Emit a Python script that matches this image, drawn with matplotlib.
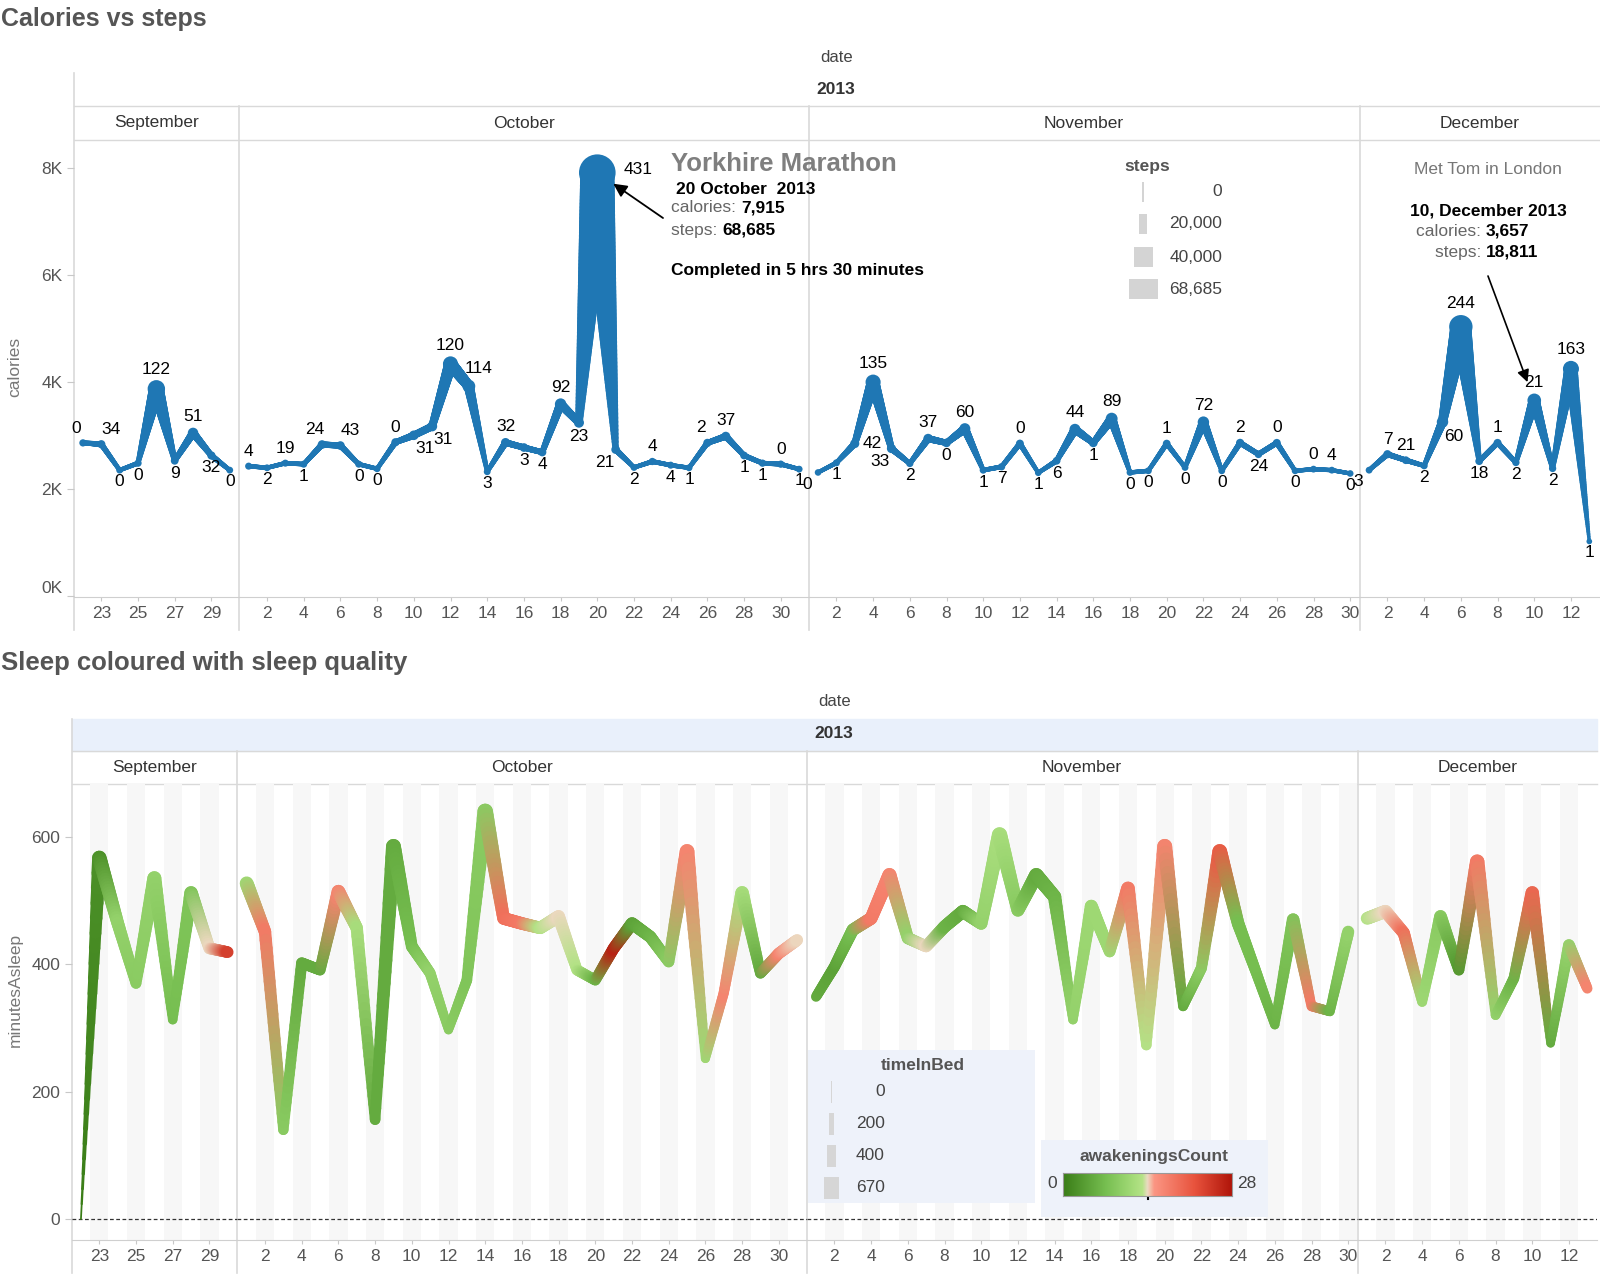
import numpy as np
import matplotlib
matplotlib.use("Agg")
import matplotlib.pyplot as plt
from matplotlib.collections import LineCollection
from matplotlib.colors import LinearSegmentedColormap, to_rgb
from matplotlib.patches import Rectangle

plt.rcParams['font.family'] = ['Liberation Sans', 'DejaVu Sans']

W, H = 1600, 1275

months = ['September', 'October', 'November', 'December']
days_sep = list(range(22, 31))
days_oct = list(range(1, 32))
days_nov = list(range(1, 31))
days_dec = list(range(1, 14))

# --- Calories vs steps -------------------------------------------------
calories_sep = [2862, 2837, 2352, 2483, 3873, 2527, 3048, 2626, 2352]
calories_oct = [2427, 2396, 2483, 2464, 2831, 2812, 2464, 2378, 2874, 3004,
                3171, 4339, 3923, 2322, 2868, 2775, 2687, 3588, 3240, 7915,
                2737, 2402, 2514, 2445, 2396, 2862, 2985, 2626, 2483, 2464, 2371]
calories_nov = [2309, 2489, 2849, 3998, 2756, 2477, 2942, 2862, 3128, 2352,
                2415, 2849, 2303, 2527, 3116, 2862, 3315, 2309, 2340, 2849,
                2402, 3250, 2340, 2862, 2650, 2862, 2340, 2371, 2352, 2290]
calories_dec = [2352, 2650, 2538, 2434, 3253, 5034, 2520, 2862, 2495, 3657,
                2384, 4246, 1019]

steps_sep = [5000, 7000, 4000, 5000, 27000, 6000, 12000, 7000, 4000]
steps_oct = [4500, 4000, 4500, 4500, 8000, 8000, 4500, 4000, 7000, 10000,
             11000, 22000, 17000, 4000, 9000, 8000, 7000, 14000, 11000, 68685,
             8000, 4000, 5000, 4500, 4000, 7000, 9000, 6000, 5000, 5000, 4000]
steps_nov = [3500, 4500, 9000, 22000, 9000, 5000, 10000, 8000, 13000, 4500,
             5000, 6500, 3500, 6000, 13000, 8000, 15000, 4000, 4000, 6000,
             4000, 14000, 4000, 7000, 6000, 6500, 4000, 4000, 4000, 3500]
steps_dec = [4000, 7000, 6000, 4500, 14000, 40000, 6000, 6500, 5000, 18811,
             5000, 24000, 1500]

active_sep = [0, 34, 0, 0, 122, 9, 51, 32, 0]
active_oct = [4, 2, 19, 1, 24, 43, 0, 0, 0, 31, 31, 120, 114, 3, 32, 3, 4, 92,
              23, 431, 21, 2, 4, 4, 1, 2, 37, 1, 1, 0, 1]
active_nov = [0, 1, 42, 135, 33, 2, 37, 0, 60, 1, 7, 0, 1, 6, 44, 1, 89, 0, 0,
              1, 0, 72, 0, 2, 24, 0, 0, 0, 4, 0]
active_dec = [3, 7, 21, 2, 60, 244, 18, 1, 2, 21, 2, 163, 1]

# where each data label sits relative to its point
place_sep = ['al', 'ar', 'b', 'b', 'a', 'b', 'a', 'b', 'b']
place_oct = ['a', 'b', 'a', 'b', 'al', 'ar', 'b', 'b', 'a', 'br', 'br', 'a', 'ar',
             'b', 'a', 'b', 'b', 'a', 'b', 'rr', 'bl', 'b', 'a', 'b', 'b', 'al',
             'a', 'b', 'b', 'a', 'b']
place_nov = ['bl', 'b', 'r', 'a', 'bl', 'b', 'a', 'b', 'a', 'b', 'b', 'a', 'b',
             'b', 'a', 'b', 'a', 'b', 'b', 'a', 'b', 'a', 'b', 'a', 'b', 'a',
             'b', 'a', 'a', 'b']
place_dec = ['bl', 'a', 'a', 'b', 'br', 'a', 'b', 'a', 'b', 'a', 'b', 'a', 'b']

# --- Sleep -------------------------------------------------------------
asleep_sep = [0, 567, 465, 370, 535, 313, 512, 425, 419]
asleep_oct = [527, 451, 140, 402, 391, 514, 457, 156, 585, 428, 386, 297, 375,
              640, 472, 464, 457, 475, 391, 375, 425, 464, 443, 404, 577, 252,
              355, 512, 386, 417, 438]
asleep_nov = [349, 396, 454, 472, 540, 441, 428, 459, 483, 464, 603, 485, 540,
              506, 313, 491, 420, 519, 273, 585, 334, 394, 577, 464, 386, 305,
              470, 334, 326, 451]
asleep_dec = [472, 483, 449, 341, 475, 391, 561, 320, 378, 512, 276, 430, 362]

time_in_bed_sep = [0, 620, 530, 440, 600, 380, 570, 490, 480]
time_in_bed_oct = [590, 520, 420, 460, 450, 575, 515, 430, 640, 490, 445, 360,
                   435, 670, 530, 525, 515, 535, 450, 435, 485, 525, 505, 465,
                   635, 360, 415, 575, 445, 475, 495]
time_in_bed_nov = [410, 455, 515, 535, 600, 500, 490, 520, 545, 525, 660, 545,
                   600, 565, 380, 550, 480, 580, 420, 645, 395, 455, 635, 525,
                   445, 370, 530, 395, 390, 510]
time_in_bed_dec = [530, 545, 510, 400, 535, 450, 620, 385, 440, 570, 340, 490,
                   420]

awakenings_sep = [0, 2, 10, 9, 10, 7, 8, 14, 24]
awakenings_oct = [11, 18, 9, 5, 5, 17, 12, 5, 5, 7, 10, 9, 8, 9, 19, 18, 13, 14,
                  13, 6, 27, 4, 6, 9, 17, 11, 17, 12, 5, 17, 14]
awakenings_nov = [5, 4, 7, 18, 17, 10, 14, 6, 5, 10, 12, 9, 5, 6, 10, 11, 11, 18,
                  13, 17, 5, 9, 21, 7, 7, 6, 8, 18, 6, 10]
awakenings_dec = [13, 14, 19, 11, 9, 3, 18, 10, 6, 20, 5, 10, 17]

month_days = [days_sep, days_oct, days_nov, days_dec]
calories = [calories_sep, calories_oct, calories_nov, calories_dec]
steps = [steps_sep, steps_oct, steps_nov, steps_dec]
active = [active_sep, active_oct, active_nov, active_dec]
places = [place_sep, place_oct, place_nov, place_dec]
asleep = [asleep_sep, asleep_oct, asleep_nov, asleep_dec]
time_in_bed = [time_in_bed_sep, time_in_bed_oct, time_in_bed_nov, time_in_bed_dec]
awakenings = [awakenings_sep, awakenings_oct, awakenings_nov, awakenings_dec]

BLUE = '#1f77b4'
GREY_TXT = '#555555'
LINE = '#d9d9d9'
DAY_PX = 18.35
PAD = 0.515
PX2PT = 0.72

awake_cmap = LinearSegmentedColormap.from_list('awake', [
    (0.0, '#3a7d17'), (0.25, '#76be50'), (0.4, '#a0d975'), (0.47, '#b5e387'),
    (0.5, '#ebdbc2'), (0.54, '#fb9683'), (0.78, '#e8533d'), (1.0, '#b0150a')])

fig = plt.figure(figsize=(W / 100, H / 100), dpi=100)
bg = fig.add_axes([0, 0, 1, 1], zorder=0)
bg.set_xlim(0, W)
bg.set_ylim(H, 0)
bg.axis('off')
fg = fig.add_axes([0, 0, 1, 1], zorder=5)
fg.set_xlim(0, W)
fg.set_ylim(H, 0)
fg.axis('off')
fg.patch.set_alpha(0)


def make_panes(left, top, bottom):
    panes = []
    x = left
    for days in month_days:
        w = (len(days) - 1 + 2 * PAD) * DAY_PX
        ax = fig.add_axes([x / W, 1 - bottom / H, w / W, (bottom - top) / H], zorder=1)
        ax.patch.set_alpha(0)
        ax.set_xlim(days[0] - PAD, days[-1] + PAD)
        for s in ['top', 'right', 'left']:
            ax.spines[s].set_visible(False)
        ax.spines['bottom'].set_color('#cfcfcf')
        ticks = [d for d in days if (d % 2 == 1 if days is days_sep else d % 2 == 0)]
        ax.set_xticks(ticks)
        ax.tick_params(axis='x', length=3, color='#c8c8c8', labelsize=12.5,
                       labelcolor=GREY_TXT, pad=3.5)
        if x == left:
            ax.tick_params(axis='y', length=5, color='#c8c8c8', labelsize=12.5,
                           labelcolor=GREY_TXT, pad=3)
        else:
            ax.tick_params(axis='y', left=False, labelleft=False)
        panes.append((ax, x, w))
        x += w
    return panes


def tapered(ax, xs, ys, widths, cols, n_sub=14, z=3):
    segs, seg_cols, seg_lw = [], [], []
    for i in range(len(xs) - 1):
        t = np.linspace(0, 1, n_sub + 1)
        px = xs[i] + (xs[i + 1] - xs[i]) * t
        py = ys[i] + (ys[i + 1] - ys[i]) * t
        for k in range(n_sub):
            tm = (t[k] + t[k + 1]) / 2
            segs.append([(px[k], py[k]), (px[k + 1], py[k + 1])])
            seg_cols.append(tuple((1 - tm) * np.array(cols[i]) + tm * np.array(cols[i + 1])))
            seg_lw.append(((1 - tm) * widths[i] + tm * widths[i + 1]) * PX2PT)
    ax.add_collection(LineCollection(segs, colors=seg_cols, linewidths=seg_lw,
                                     capstyle='round', joinstyle='round', zorder=z))


def headers(panes, y_date, y_year, row_top, month_top, plot_top, row_bottom, year_fill=None):
    left = panes[0][1]
    right = panes[-1][1] + panes[-1][2]
    cx = (left + right) / 2
    if year_fill:
        bg.add_patch(Rectangle((left, row_top), right - left, month_top - row_top,
                               color=year_fill, zorder=0))
    bg.text(cx, y_date, 'date', ha='center', va='center', fontsize=12, color='#444444')
    bg.text(cx, y_year, '2013', ha='center', va='center', fontsize=12.5,
            fontweight='bold', color='#333333')
    bg.plot([left, right], [month_top, month_top], color=LINE, lw=1)
    bg.plot([left, right], [plot_top, plot_top], color=LINE, lw=1)
    for i, (ax, x, w) in enumerate(panes):
        y0 = row_top if i == 0 else month_top
        bg.plot([x, x], [y0, row_bottom], color=LINE, lw=1.2)
        bg.text(x + w / 2, (month_top + plot_top) / 2, months[i], ha='center',
                va='center', fontsize=12.5, color='#333333')


# ================= top chart =================
top_panes = make_panes(73.5, 143, 597)
bg.text(1, 19, 'Calories vs steps', ha='left', va='center', fontsize=18,
        fontweight='bold', color='#555555')
headers(top_panes, 58, 89, 73, 106, 140, 630)

for i, (ax, x, w) in enumerate(top_panes):
    days = month_days[i]
    wid = [2.5 + s * 0.00046 for s in steps[i]]
    tapered(ax, days, calories[i], wid, [to_rgb(BLUE)] * len(days), n_sub=70)
    ax.scatter(days, calories[i], s=[((v + 2.5) * PX2PT) ** 2 for v in wid],
               color=BLUE, linewidths=0, zorder=4)
    ax.set_ylim(-20, 8470)
    ax.set_yticks([0, 2000, 4000, 6000, 8000])
    ax.set_yticklabels(['0K', '2K', '4K', '6K', '8K'])
    for d, c, v, p, wp in zip(days, calories[i], active[i], places[i], wid):
        r = wp / 2 * PX2PT
        if p == 'rr':
            off, ha, va = (r + 7, 2), 'left', 'center'
        elif p == 'r':
            off, ha, va = (r + 3, 0), 'left', 'center'
        elif p.startswith('a'):
            dx = 7 if p == 'ar' else (-5 if p == 'al' else 0)
            off, ha, va = (dx, r + 3.5), 'center', 'bottom'
        else:
            dx = 8 if p == 'br' else (-8 if p == 'bl' else 0)
            off, ha, va = (dx, -(r + 1.5)), 'center', 'top'
        ax.annotate(str(v), (d, c), xytext=off, textcoords='offset points',
                    ha=ha, va=va, fontsize=12.5, color='black', zorder=6)
top_panes[0][0].get_yticklabels()[0].set_va('bottom')
bg.text(15, 367, 'calories', rotation=90, ha='center', va='center', fontsize=12.5,
        color='#777777')

# marathon annotation
ax_oct = top_panes[1][0]
ax_oct.annotate('', xy=(20, 7915), xytext=(663, 218), textcoords=bg.transData,
                arrowprops=dict(arrowstyle='-|>', color='black', lw=1.3,
                                mutation_scale=20, shrinkA=0, shrinkB=14))
fg.text(671, 164, 'Yorkhire Marathon', ha='left', va='center', fontsize=18.5,
        fontweight='bold', color='#7f7f7f')
fg.text(676, 189, '20 October  2013', ha='left', va='center', fontsize=12.5,
        fontweight='bold', color='black')
t1 = fg.text(671, 208, 'calories: ', ha='left', va='center', fontsize=12.5, color='#666666')
fg.annotate('7,915', xy=(1, 0), xycoords=t1, ha='left', va='bottom', fontsize=12.5,
            fontweight='bold', color='black')
t2 = fg.text(671, 230, 'steps: ', ha='left', va='center', fontsize=12.5, color='#666666')
fg.annotate('68,685', xy=(1, 0), xycoords=t2, ha='left', va='bottom', fontsize=12.5,
            fontweight='bold', color='black')
fg.text(671, 270, 'Completed in 5 hrs 30 minutes', ha='left', va='center',
        fontsize=12.5, fontweight='bold', color='black')

# December annotation
ax_dec = top_panes[3][0]
ax_dec.annotate('', xy=(10, 3657), xytext=(1488, 276), textcoords=bg.transData,
                arrowprops=dict(arrowstyle='-|>', color='black', lw=1.2,
                                mutation_scale=18, shrinkA=0, shrinkB=14))
fg.text(1488, 169, 'Met Tom in London', ha='center', va='center', fontsize=12.5,
        color='#777777')
fg.text(1488, 211, '10, December 2013', ha='center', va='center', fontsize=12.5,
        fontweight='bold', color='black')
fg.text(1486, 231, 'calories: ', ha='right', va='center', fontsize=12.5, color='#666666')
fg.text(1486, 231, '3,657', ha='left', va='center', fontsize=12.5, fontweight='bold')
fg.text(1486, 252, 'steps: ', ha='right', va='center', fontsize=12.5, color='#666666')
fg.text(1486, 252, '18,811', ha='left', va='center', fontsize=12.5, fontweight='bold')

# steps size legend
steps_legend = ['0', '20,000', '40,000', '68,685']
fg.text(1147, 166, 'steps', ha='center', va='center', fontsize=12.5,
        fontweight='bold', color=GREY_TXT)
for lab, sw, yy in zip(steps_legend, [1.2, 8, 19, 29], [192, 224, 257, 289]):
    fg.add_patch(Rectangle((1143 - sw / 2, yy - 10), sw, 20, color='#d4d4d4', lw=0))
    fg.text(1222, yy, lab, ha='right', va='center', fontsize=12.5, color='#444444')

# ================= bottom chart =================
bot_panes = make_panes(71.5, 784, 1240)
bg.text(1, 663, 'Sleep coloured with sleep quality', ha='left', va='center',
        fontsize=18.5, fontweight='bold', color='#555555')
headers(bot_panes, 701, 733, 719, 751, 784, 1273, year_fill='#e9f0fb')

for i, (ax, x, w) in enumerate(bot_panes):
    days = month_days[i]
    for d in ax.get_xticks():
        ax.axvspan(d - 0.5, d + 0.5, color='#f7f7f7', lw=0, zorder=0)
    ax.axhline(0, color='#333333', lw=0.9, ls=(0, (3, 2)), zorder=2)
    wid = [1.5 + t * 0.021 for t in time_in_bed[i]]
    cols = [awake_cmap(a / 28)[:3] for a in awakenings[i]]
    tapered(ax, days, asleep[i], wid, cols, n_sub=24)
    ax.set_ylim(-33, 683)
    ax.set_yticks([0, 200, 400, 600])
bg.text(15, 990, 'minutesAsleep', rotation=90, ha='center', va='center',
        fontsize=12.5, color='#777777')

# timeInBed legend
fg.add_patch(Rectangle((808, 1050), 227, 153, color='#eef2fa', lw=0))
fg.text(923, 1065, 'timeInBed', ha='center', va='center', fontsize=12.5,
        fontweight='bold', color=GREY_TXT)
bed_legend = ['0', '200', '400', '670']
for lab, sw, yy in zip(bed_legend, [1, 5, 9, 15], [1092, 1124, 1156, 1188]):
    fg.add_patch(Rectangle((831 - sw / 2, yy - 11), sw, 22, color='#d6d6d6', lw=0))
    fg.text(885, yy, lab, ha='right', va='center', fontsize=12.5, color='#444444')

# awakeningsCount legend
fg.add_patch(Rectangle((1041, 1140), 227, 77, color='#eef2fa', lw=0))
fg.text(1154, 1157, 'awakeningsCount', ha='center', va='center', fontsize=12.5,
        fontweight='bold', color=GREY_TXT)
fg.text(1052, 1183, '0', ha='center', va='center', fontsize=12.5, color='#444444')
fg.text(1237, 1183, '28', ha='left', va='center', fontsize=12.5, color='#444444')
cax = fig.add_axes([1063 / W, 1 - 1196 / H, 169 / W, 23 / H], zorder=6)
cax.imshow(np.linspace(0, 1, 256)[None, :], aspect='auto', cmap=awake_cmap)
cax.set_xticks([])
cax.set_yticks([])
for s in cax.spines.values():
    s.set_color('#999999')
fg.plot([1148, 1148], [1192, 1199], color='black', lw=1.5, zorder=7)

fig.savefig('out.png', dpi=100)
